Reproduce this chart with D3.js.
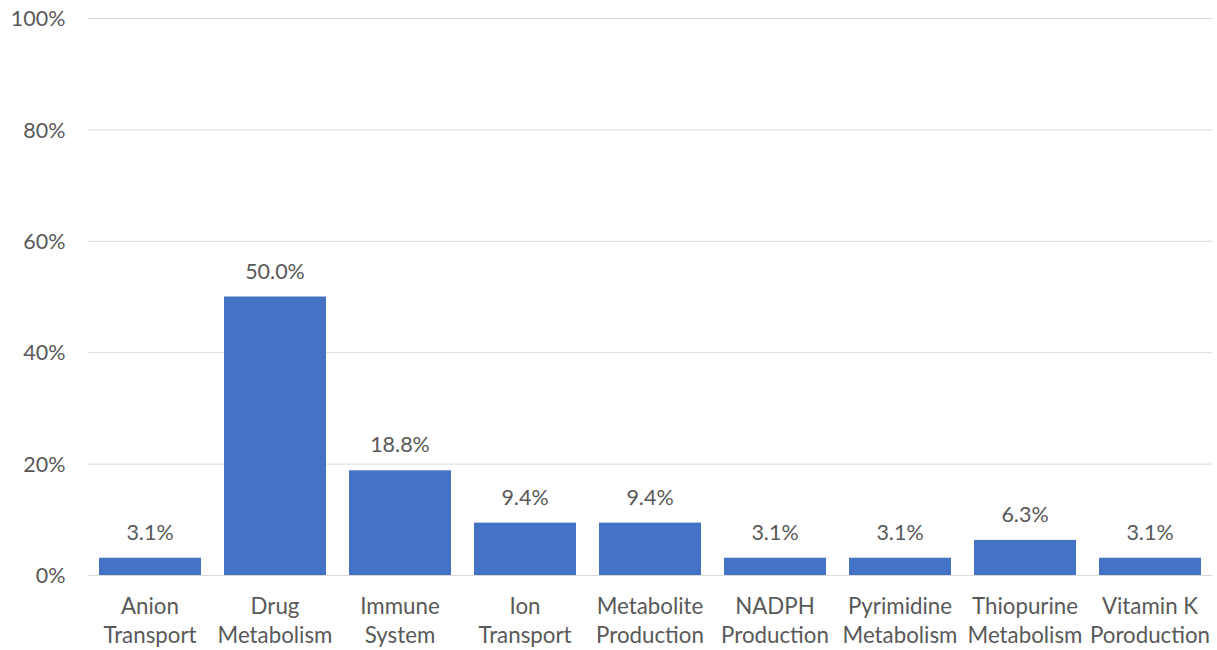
<!DOCTYPE html>
<html>
<head>
<meta charset="utf-8">
<script src="https://cdn.jsdelivr.net/npm/d3@7"></script>
<style>
  html, body { margin: 0; padding: 0; background: #fff; }
  svg text { font-family: Lato, "Open Sans", sans-serif; fill: #595959; }
</style>
</head>
<body>
<svg id="chart" width="1217" height="650"></svg>
<script>
// Share of genes by functional category (percent)
const categories = [
  ["Anion", "Transport"],
  ["Drug", "Metabolism"],
  ["Immune", "System"],
  ["Ion", "Transport"],
  ["Metabolite", "Production"],
  ["NADPH", "Production"],
  ["Pyrimidine", "Metabolism"],
  ["Thiopurine", "Metabolism"],
  ["Vitamin K", "Poroduction"]
];
const values = [3.1, 50.0, 18.8, 9.4, 9.4, 3.1, 3.1, 6.3, 3.1];
const yTicks = [0, 20, 40, 60, 80, 100];

const svg = d3.select("#chart");
const plot = { left: 87.5, right: 1212.5, top: 18, bottom: 575 };

const x = d3.scaleBand()
  .domain(categories.map((d, i) => i))
  .range([plot.left, plot.right])
  .paddingInner(0.184)
  .paddingOuter(0.092);

const y = d3.scaleLinear().domain([0, 100]).range([plot.bottom, plot.top]);

// Horizontal gridlines with percent tick labels
const yAxis = d3.axisLeft(y)
  .tickValues(yTicks)
  .tickFormat(d => d + "%")
  .tickSize(-(plot.right - plot.left))
  .tickPadding(22);

const gy = svg.append("g")
  .attr("transform", `translate(${plot.left},0)`)
  .call(yAxis);
gy.select(".domain").remove();
gy.selectAll(".tick line").attr("stroke", "#d9d9d9").attr("stroke-width", 1);
gy.selectAll(".tick text")
  .attr("font-size", 21.5)
  .attr("dy", "0.36em")
  .attr("fill", "#595959");

// Bars
svg.append("g").selectAll("rect")
  .data(values)
  .join("rect")
  .attr("x", (d, i) => x(i))
  .attr("y", d => y(d))
  .attr("width", x.bandwidth())
  .attr("height", d => y(0) - y(d))
  .attr("fill", "#4472C4");

// Value labels above bars
svg.append("g").selectAll("text")
  .data(values)
  .join("text")
  .attr("x", (d, i) => x(i) + x.bandwidth() / 2)
  .attr("y", d => y(d) - 18)
  .attr("text-anchor", "middle")
  .attr("font-size", 21.5)
  .text(d => d.toFixed(1) + "%");

// Two-line category labels
const cat = svg.append("g").selectAll("text")
  .data(categories)
  .join("text")
  .attr("text-anchor", "middle")
  .attr("font-size", 22.3);
cat.each(function(lines, i) {
  const t = d3.select(this);
  lines.forEach((line, k) => {
    t.append("tspan")
      .attr("x", x(i) + x.bandwidth() / 2)
      .attr("y", 614 + k * 28.5)
      .text(line);
  });
});
</script>
</body>
</html>
